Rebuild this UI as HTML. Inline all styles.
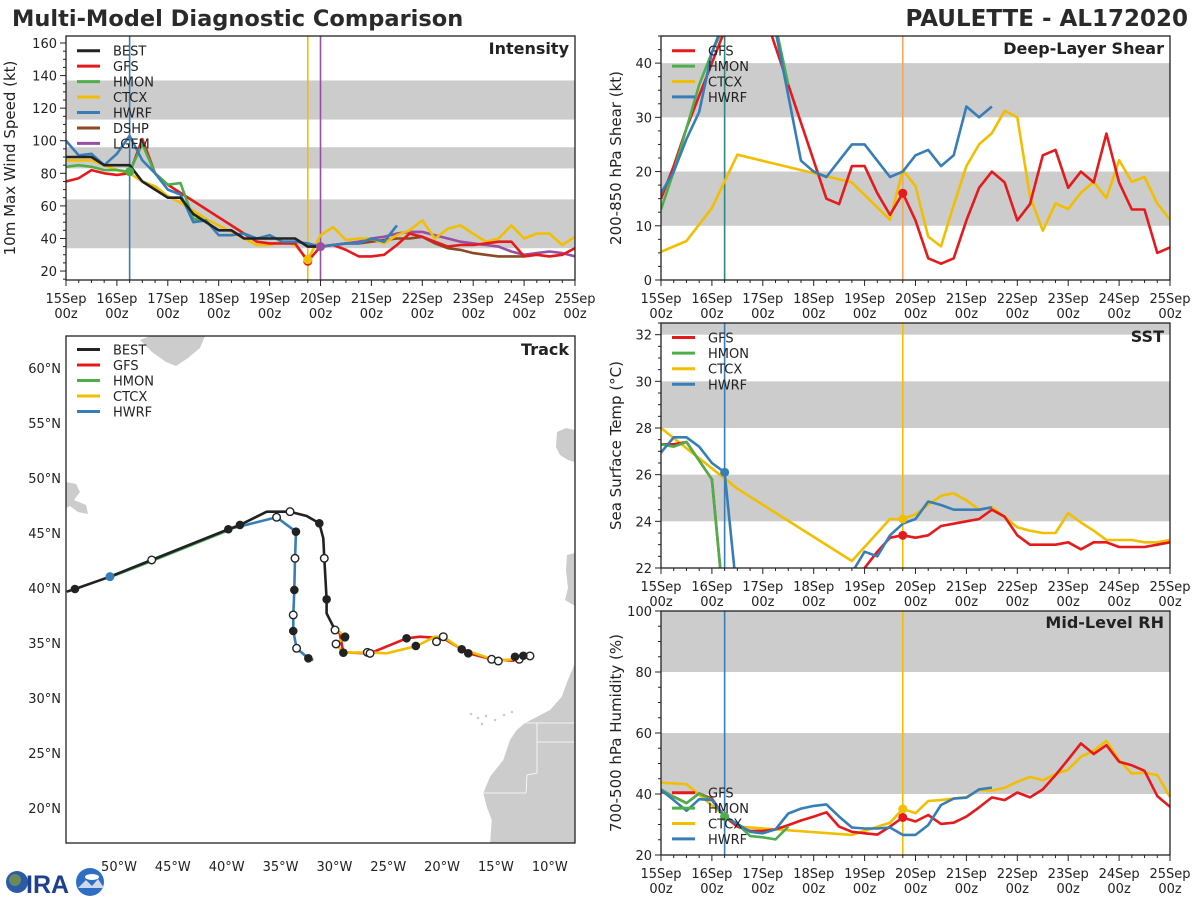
<!DOCTYPE html>
<html><head><meta charset="utf-8"><style>
html,body{margin:0;padding:0;background:#fff;}
svg{display:block;font-family:"DejaVu Sans","Liberation Sans",sans-serif;}
</style></head><body>
<svg id="fig" width="1200" height="900" viewBox="0 0 1200 900">
<rect x="0" y="0" width="1200" height="900" fill="#fff"/>
<text x="12" y="26" font-size="22.5" font-weight="bold" fill="#2a2a2a">Multi-Model Diagnostic Comparison</text>
<text x="1188" y="26" font-size="23" font-weight="bold" fill="#2a2a2a" text-anchor="end">PAULETTE - AL172020</text>
<g id="logo">
<circle cx="17" cy="882" r="11" fill="#2a5aa8"/><circle cx="15" cy="880" r="6" fill="#6a8a5a"/>
<text x="26" y="893" font-size="25" font-weight="bold" fill="#1f3f8f" font-family="Liberation Sans, sans-serif">IRA</text>
<circle cx="90" cy="882" r="14" fill="#2e6fc4"/><ellipse cx="92" cy="877" rx="7" ry="3" fill="#fff"/><path d="M78,888 L86,880 L92,886 L98,879 L104,888 Z" fill="#d0d8f0"/>
</g>
</svg>
<script>
const NS = 'http://www.w3.org/2000/svg';
const svg = document.getElementById('fig');
function mk(tag, attrs, parent) { const e = document.createElementNS(NS, tag); for (const k in attrs) e.setAttribute(k, attrs[k]); (parent || svg).appendChild(e); return e; }

/* ---------- data ---------- */
const dayLabels = ['15Sep','16Sep','17Sep','18Sep','19Sep','20Sep','21Sep','22Sep','23Sep','24Sep','25Sep'];
const modelNames = ['BEST','GFS','HMON','CTCX','HWRF','DSHP','LGEM'];
const modelColors = {BEST:'#222222',GFS:'#e41a1c',HMON:'#4daf4a',CTCX:'#f2be00',HWRF:'#377eb8',DSHP:'#8b4a26',LGEM:'#984ea3'};

// Intensity (kt), 6-hourly from start day offset
const intBEST = [90,90,90,85,85,85,75,70,65,65,55,50,45,45,40,40,40,40,40,35,35];
const intGFS = [75,77,82,80,79,80,101,80,73,68,63,58,53,48,43,38,37,37,37,26,35,36,33,29,29,30,36,43,41,38,35,36,36,37,38,38,29,30,29,30,34];
const intHMON = [84,85,84,82,82,81,98,80,73,74,52,51];
const intCTCX = [88,88,88,85,82,80,75,72,66,62,57,52,48,44,40,36,36,38,36,27,42,47,39,40,40,37,42,45,51,40,46,48,43,38,40,48,40,43,43,36,41];
const intHWRF = [100,91,92,85,92,103,88,80,70,67,50,51,42,42,43,40,42,38,38,37,35,36,37,37,40,38,48];
const intDSHP = [35,36,37,37,38,39,40,40,41,37,34,33,31,30,29,29,29];
const intLGEM = [35,36,37,38,40,41,43,44,44,42,40,38,37,36,35,32,30,31,32,31,29];
const intDSHPstart = 5.0;
const intLGEMstart = 5.0;

// Deep-layer shear (kt)
const shGFS = [15,21,28,34,40,46,52,55,50,43,36,29,22,15,14,21,21,16,12,16,11,4,3,4,11,17,20,18,11,14,23,24,17,20,18,27,18,13,13,5,6];
const shHMON = [13,20,28,36,42,47,55,57,55,47,36];
const shHWRF = [16,20,26,31,42,48,55,57,54,46,34,22,20,19,22,25,25,22,19,20,23,24,21,23,32,30,32];
const shCTCXtimes = [0,0.5,1,1.5,3.75,4.5,4.75,5,5.25,5.5,5.75,6,6.25,6.5,6.75,7,7.25,7.5,7.75,8,8.25,8.5,8.75,9,9.25,9.5,9.75,10];
const shCTCX = [5.2,7.2,13.3,23.1,18,11.1,20.3,17.3,8,6.2,13.8,21,25,27.1,31.2,30,15.4,9.1,14.1,13.1,16.1,18.1,15.1,22.1,18.1,19,14.1,11.1];

// SST (C)
const sstGFS = [27.3,27.3,27.4,26.6,25.8,20,19,19,19,19,19,19,19,19,19,20.5,22.0,22.7,23.3,23.4,23.3,23.4,23.8,23.9,24.0,24.1,24.5,24.2,23.4,23.0,23.0,23.0,23.1,22.8,23.1,23.1,22.9,22.9,22.9,23.0,23.1];
const sstHMON = [27.3,27.2,27.4,26.6,25.8,20];
const sstHWRF = [26.95,27.6,27.6,27.2,26.5,26.1,20.7,18,18,18,18,18,18,18,18,21.8,22.7,22.5,23.4,23.9,24.1,24.85,24.7,24.5,24.5,24.5,24.6];
const sstCTCXtimes = [0,1.5,3.75,4.5,4.75,5,5.25,5.5,5.75,6,6.25,6.5,6.75,7,7.25,7.5,7.75,8,8.25,8.5,8.75,9,9.25,9.5,9.75,10];
const sstCTCX = [28.0,25.4,22.3,24.1,24.1,24.3,24.7,25.1,25.2,24.9,24.5,24.6,24.2,23.75,23.6,23.5,23.5,24.35,23.95,23.6,23.2,23.2,23.2,23.1,23.1,23.2];

// Mid-level RH (%)
const rhGFS = [40.8,39.1,37,40.2,38.5,32.6,29.3,27.9,27.9,28.4,29.8,31.3,32.6,34,29.3,27.6,27.1,26.7,29.3,32.3,31,33.1,30.2,30.6,32.6,35.6,38.9,38,40.5,38.9,41.5,46.2,51.3,56.6,53.1,56,50.6,49.4,47.6,39.3,35.8];
const rhHMON = [41.5,39,37,40.2,38,32.6,30.2,26.2,25.8,25.1,29.3];
const rhHWRF = [41.3,38,34.5,38.3,38,32.6,30.2,27.6,27.1,28.4,33.6,35.2,36.1,36.6,32.6,29,28.7,28.7,29,26.6,26.6,29.8,36.4,38.5,38.8,41.5,42.1];
const rhCTCXtimes = [0,0.5,1.5,3.75,4.5,4.75,5,5.25,5.5,5.75,6,6.25,6.5,6.75,7,7.25,7.5,7.75,8,8.25,8.5,8.75,9,9.25,9.5,9.75,10];
const rhCTCX = [43.7,43.2,29.3,26.6,30.6,35.1,33.7,37.7,38,38.5,39,41.3,41.1,42,44,45.6,44.5,46.5,48,52.2,54.2,57.4,51.1,46.7,47,46.2,39];

// Track (deg W, deg N)
const trkBESTlon = [54.86,54.09,50.84,46.96,39.85,38.77,36.29,34.12,32.57,31.40,31.03,30.94,30.72,30.72,29.94,29.01];
const trkBESTlat = [39.66,39.91,41.03,42.55,45.34,45.73,46.94,46.94,46.55,45.88,44.52,42.70,38.97,37.70,36.18,35.57];
const trkHWRFlon = [50.84,46.96,39.85,35.37,33.57,33.66,33.72,33.82,33.82,33.51,32.42,31.96];
const trkHWRFlat = [41.03,42.55,45.34,46.43,45.12,42.70,39.82,37.55,36.09,34.52,33.61,33.45];
const trkHMONlon = [50.84,46.96,39.85];
const trkHMONlat = [40.98,42.45,45.25];
const trkGFSlon = [29.54,29.17,26.69,23.30,22.05,19.89,17.57,15.40,13.40,12.46];
const trkGFSlat = [36.03,34.15,34.06,35.43,35.57,35.43,34.06,33.52,33.39,33.82];
const trkCTCXlon = [29.54,29.02,29.85,29.17,26.85,25.14,22.36,20.66,19.89,18.34,14.93,13.40,11.84];
const trkCTCXlat = [36.03,35.52,34.91,34.12,34.15,34.06,34.73,35.57,35.57,34.52,33.39,33.52,33.82];
const mkFilledLon = [54.09,39.85,38.77,31.40,30.72,29.01,33.57,33.72,33.82,32.42,29.02,29.17,23.30,22.44,18.18,17.57,13.23,12.46];
const mkFilledLat = [39.91,45.34,45.73,45.88,38.97,35.57,45.12,39.82,36.09,33.61,35.52,34.12,35.43,34.73,34.43,34.06,33.75,33.84];
const mkOpenLon = [46.96,34.12,30.94,29.94,35.37,33.66,33.82,33.51,29.85,26.94,26.69,20.52,19.89,15.40,14.78,12.84,11.84];
const mkOpenLat = [42.55,46.94,42.70,36.18,46.43,42.70,37.55,34.52,34.91,34.15,34.06,35.12,35.57,33.52,33.36,33.52,33.82];
const latTicks = [60,55,50,45,40,35,30,25,20];
const lonTicks = [50,45,40,35,30,25,20,15,10];

/* ---------- time-series panels ---------- */
function makePanel(cfg) {
  const g = mk('g', {});
  
  
  const X = t => cfg.x0 + t / 10 * (cfg.x1 - cfg.x0);
  const Y = v => cfg.y1 - (v - cfg.ymin) / (cfg.ymax - cfg.ymin) * (cfg.y1 - cfg.y0);
  const cid = 'clip-' + cfg.name;
  const cp = mk('clipPath', {id: cid}, g);
  mk('rect', {x: cfg.x0, y: cfg.y0, width: cfg.x1 - cfg.x0, height: cfg.y1 - cfg.y0}, cp);
  cfg.bands.forEach(b => {
    const lo = Math.max(b[0], cfg.ymin), hi = Math.min(b[1], cfg.ymax);
    const r = mk('rect', {x: cfg.x0, y: Y(hi), width: cfg.x1 - cfg.x0, height: Y(lo) - Y(hi), fill: '#cccccc'}, g);
    
    
  });
  const pg = mk('g', {'clip-path': 'url(#' + cid + ')'}, g);
  cfg.vlines.forEach(v => {
    const l = mk('line', {x1: X(v[0]), x2: X(v[0]), y1: cfg.y0, y2: cfg.y1, stroke: v[1], 'stroke-width': 1.6}, pg);
    
    
  });
  cfg.series.forEach(s => {
    const times = s.times || s.vals.map((_, i) => (s.start || 0) + i * 0.25);
    const pts = s.vals.map((v, i) => X(times[i]).toFixed(1) + ',' + Y(v).toFixed(1)).join(' ');
    const p = mk('polyline', {points: pts, fill: 'none', stroke: modelColors[s.model], 'stroke-width': 2.6, 'stroke-linejoin': 'round'}, pg);
    
    
  });
  cfg.dots.forEach(d => {
    const c = mk('circle', {cx: X(d[1]), cy: Y(d[2]), r: 4.5, fill: modelColors[d[0]]}, pg);
    
    
  });
  const fr = mk('rect', {x: cfg.x0, y: cfg.y0, width: cfg.x1 - cfg.x0, height: cfg.y1 - cfg.y0, fill: 'none', stroke: '#222', 'stroke-width': 1.3}, g);
  
  
  for (let i = 0; i <= 40; i++) {
    const x = X(i * 0.25), major = i % 4 === 0;
    mk('line', {x1: x, x2: x, y1: cfg.y1, y2: cfg.y1 + (major ? 6 : 3), stroke: '#222', 'stroke-width': 1}, g);
  }
  dayLabels.forEach((d, i) => {
    const t1 = mk('text', {x: X(i), y: cfg.y1 + 23, 'font-size': 13, 'text-anchor': 'middle', fill: '#222'}, g);
    t1.textContent = d;
    
    
    const t2 = mk('text', {x: X(i), y: cfg.y1 + 38, 'font-size': 13, 'text-anchor': 'middle', fill: '#222'}, g);
    t2.textContent = '00z';
    
    
  });
  for (let v = Math.ceil(cfg.ymin / cfg.minor) * cfg.minor; v <= cfg.ymax + 1e-6; v += cfg.minor) {
    const major = cfg.yticks.some(t => Math.abs(t - v) < 1e-6);
    mk('line', {x1: cfg.x0 - (major ? 6 : 3), x2: cfg.x0, y1: Y(v), y2: Y(v), stroke: '#222', 'stroke-width': 1}, g);
  }
  cfg.yticks.forEach(v => {
    const t = mk('text', {x: cfg.x0 - 9, y: Y(v) + 5, 'font-size': 13, 'text-anchor': 'end', fill: '#222'}, g);
    t.textContent = String(v);
    
    
  });
  const cy = (cfg.y0 + cfg.y1) / 2;
  const yl = mk('text', {x: cfg.ylabx, y: cy, 'font-size': 15, 'text-anchor': 'middle', fill: '#222', transform: 'rotate(-90 ' + cfg.ylabx + ' ' + cy + ')'}, g);
  yl.textContent = cfg.ylabel;
  
  
  const tt = mk('text', {x: cfg.x1 - 6, y: cfg.titleY, 'font-size': 16, 'font-weight': 'bold', 'text-anchor': 'end', fill: '#222'}, g);
  tt.textContent = cfg.title;
  
  
  cfg.legend.forEach((m, i) => {
    const ly = cfg.legY + i * cfg.legDy;
    const ll = mk('line', {x1: cfg.x0 + 11, x2: cfg.x0 + 34, y1: ly, y2: ly, stroke: modelColors[m], 'stroke-width': 3}, g);
    
    
    const lt = mk('text', {x: cfg.x0 + 47, y: ly + 5, 'font-size': 13, fill: '#222'}, g);
    lt.textContent = m;
    
    
  });
}

makePanel({name:'intensity', x0:66, x1:575, y0:36, y1:280, ymin:14.5, ymax:164.3, yticks:[20,40,60,80,100,120,140,160], minor:5,
  bands:[[34,64],[83,96],[113,137]], vlines:[[1.25,'#377eb8'],[4.75,'#f2be00'],[5.0,'#984ea3']],
  series:[{model:'DSHP',vals:intDSHP,start:intDSHPstart},{model:'LGEM',vals:intLGEM,start:intLGEMstart},{model:'CTCX',vals:intCTCX},{model:'GFS',vals:intGFS},{model:'HMON',vals:intHMON},{model:'HWRF',vals:intHWRF},{model:'BEST',vals:intBEST}],
  dots:[['HMON',1.25,81],['GFS',4.75,26],['CTCX',4.75,27],['LGEM',5.0,35]],
  ylabel:'10m Max Wind Speed (kt)', ylabx:15, title:'Intensity', titleY:54,
  legend:['BEST','GFS','HMON','CTCX','HWRF','DSHP','LGEM'], legY:50.7, legDy:15.45});

makePanel({name:'shear', x0:661, x1:1170, y0:36, y1:280, ymin:0, ymax:45, yticks:[0,10,20,30,40], minor:2.5,
  bands:[[10,20],[30,40]], vlines:[[1.25,'#2e8a7e'],[4.75,'#f0a860']],
  series:[{model:'CTCX',vals:shCTCX,times:shCTCXtimes},{model:'GFS',vals:shGFS},{model:'HMON',vals:shHMON},{model:'HWRF',vals:shHWRF}],
  dots:[['GFS',4.75,16]],
  ylabel:'200-850 hPa Shear (kt)', ylabx:621, title:'Deep-Layer Shear', titleY:54,
  legend:['GFS','HMON','CTCX','HWRF'], legY:50.7, legDy:15.4});

makePanel({name:'sst', x0:661, x1:1170, y0:323, y1:568, ymin:22, ymax:32.5, yticks:[22,24,26,28,30,32], minor:0.5,
  bands:[[24,26],[28,30],[32,40]], vlines:[[1.25,'#377eb8'],[4.75,'#f2be00']],
  series:[{model:'CTCX',vals:sstCTCX,times:sstCTCXtimes},{model:'GFS',vals:sstGFS},{model:'HMON',vals:sstHMON},{model:'HWRF',vals:sstHWRF}],
  dots:[['HWRF',1.25,26.1],['CTCX',4.75,24.1],['GFS',4.75,23.4]],
  ylabel:'Sea Surface Temp (°C)', ylabx:621, title:'SST', titleY:342,
  legend:['GFS','HMON','CTCX','HWRF'], legY:337.5, legDy:15.6});

makePanel({name:'rh', x0:661, x1:1170, y0:611, y1:855, ymin:20, ymax:100, yticks:[20,40,60,80,100], minor:5,
  bands:[[40,60],[80,100]], vlines:[[1.25,'#377eb8'],[4.75,'#f2be00']],
  series:[{model:'CTCX',vals:rhCTCX,times:rhCTCXtimes},{model:'GFS',vals:rhGFS},{model:'HMON',vals:rhHMON},{model:'HWRF',vals:rhHWRF}],
  dots:[['HMON',1.25,32.6],['CTCX',4.75,35.1],['GFS',4.75,32.3]],
  ylabel:'700-500 hPa Humidity (%)', ylabx:621, title:'Mid-Level RH', titleY:628,
  legend:['GFS','HMON','CTCX','HWRF'], legY:792.7, legDy:15.4});

/* ---------- track panel ---------- */
(function () {
  const x0 = 66, x1 = 575, y0 = 336, y1 = 843;
  const LX = w => 119 + (50 - w) * 10.77;
  const LY = lat => 368 + (60 - lat) * 11.0;
  const g = mk('g', {});
  
  
  const cp = mk('clipPath', {id: 'clip-track'}, g);
  mk('rect', {x: x0, y: y0, width: x1 - x0, height: y1 - y0}, cp);
  const pg = mk('g', {'clip-path': 'url(#clip-track)'}, g);
  const land = [
    'M575,663 L566.7,683 L561.7,696.7 L550,710 L525,723 L516.7,730 L510,740 L503.3,760 L490,776.7 L483.3,793 L486.7,806.7 L491.7,820 L490,845 L580,845 Z',
    'M557,432 L566,428 L575,430 L575,462 L568,460 L560,455 L556,447 Z',
    'M575,553 L567,555 L566,570 L568,588 L565,600 L575,606 Z',
    'M140,340 L150,336 L205,336 L200,348 L188,358 L176,366 L166,362 L152,352 Z',
    'M66,482 L76,484 L80,492 L74,500 L86,505 L88,514 L78,512 L70,506 L66,508 Z'
  ];
  land.forEach(d => {
    const p = mk('path', {d: d, fill: '#cccccc'}, pg);
    
    
  });
  [[525,723,575,723],[537,723,537,742],[537,742,575,742],[483,793,526,793],[526,793,527,775],[527,775,537,773],[537,773,537,742]].forEach(b => {
    mk('line', {x1: b[0], y1: b[1], x2: b[2], y2: b[3], stroke: '#fff', 'stroke-width': 0.8}, pg);
  });
  [[471,714],[478,718],[486,716],[495,720],[504,715],[512,712],[482,724]].forEach(c => {
    mk('circle', {cx: c[0], cy: c[1], r: 1.3, fill: '#cccccc'}, pg);
  });
  const tracks = [['HMON', trkHMONlon, trkHMONlat], ['HWRF', trkHWRFlon, trkHWRFlat], ['BEST', trkBESTlon, trkBESTlat], ['GFS', trkGFSlon, trkGFSlat], ['CTCX', trkCTCXlon, trkCTCXlat]];
  tracks.forEach(t => {
    const pts = t[1].map((w, i) => LX(w).toFixed(1) + ',' + LY(t[2][i]).toFixed(1)).join(' ');
    const p = mk('polyline', {points: pts, fill: 'none', stroke: modelColors[t[0]], 'stroke-width': 2.6, 'stroke-linejoin': 'round'}, pg);
    
    
  });
  mkOpenLon.forEach((w, i) => {
    const c = mk('circle', {cx: LX(w), cy: LY(mkOpenLat[i]), r: 3.8, fill: '#fff', stroke: '#222', 'stroke-width': 1.4}, pg);
    
    
  });
  mkFilledLon.forEach((w, i) => {
    const c = mk('circle', {cx: LX(w), cy: LY(mkFilledLat[i]), r: 4.3, fill: '#222'}, pg);
    
    
  });
  const hs = mk('circle', {cx: LX(50.84), cy: LY(41.03), r: 4.5, fill: '#377eb8'}, pg);
  
  
  const fr = mk('rect', {x: x0, y: y0, width: x1 - x0, height: y1 - y0, fill: 'none', stroke: '#222', 'stroke-width': 1.3}, g);
  
  
  latTicks.forEach(v => {
    const t = mk('text', {x: 61, y: LY(v) + 5, 'font-size': 13, 'text-anchor': 'end', fill: '#222'}, g);
    t.textContent = v + '°N';
    
    
  });
  lonTicks.forEach(v => {
    const t = mk('text', {x: LX(v), y: 871, 'font-size': 13, 'text-anchor': 'middle', fill: '#222'}, g);
    t.textContent = v + '°W';
    
    
  });
  const tt = mk('text', {x: x1 - 6, y: 355, 'font-size': 16, 'font-weight': 'bold', 'text-anchor': 'end', fill: '#222'}, g);
  tt.textContent = 'Track';
  
  
  ['BEST','GFS','HMON','CTCX','HWRF'].forEach((m, i) => {
    const ly = 349.5 + i * 15.5;
    const ll = mk('line', {x1: 77, x2: 100, y1: ly, y2: ly, stroke: modelColors[m], 'stroke-width': 3}, g);
    
    
    const lt = mk('text', {x: 113, y: ly + 5, 'font-size': 13, fill: '#222'}, g);
    lt.textContent = m;
    
    
  });
})();
</script>
</body></html>
